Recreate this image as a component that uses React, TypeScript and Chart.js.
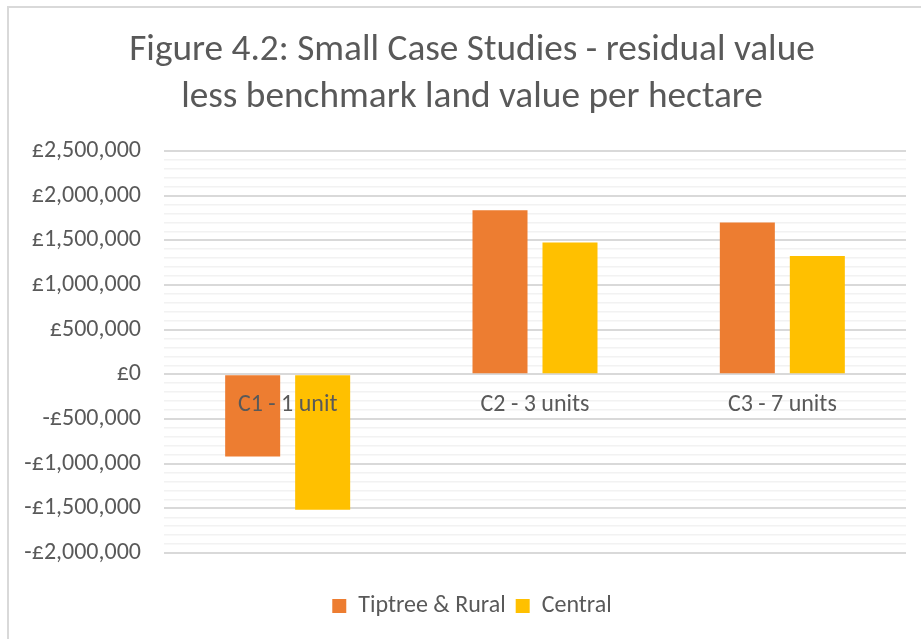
import React, { useEffect, useRef } from 'react';
import { Chart, registerables } from 'chart.js';

Chart.register(...registerables);

const categories = ['C1 - 1 unit', 'C2 - 3 units', 'C3 - 7 units'];
const seriesNames = ['Tiptree & Rural', 'Central'];
const tiptreeRural = [-920000, 1835000, 1700000];
const central = [-1515000, 1475000, 1325000];
const titleLines = [
  'Figure 4.2: Small Case Studies - residual value',
  'less benchmark land value per hectare',
];
const yMin = -2000000;
const yMax = 2500000;
const yMajorStep = 500000;
const yMinorStep = 100000;

const FONT = 'Carlito, Calibri, Lato, sans-serif';
const TEXT = '#595959';
const ORANGE = '#ED7D31';
const YELLOW = '#FFC000';

function fmtPounds(v: number): string {
  const s = Math.abs(Math.round(v)).toString().replace(/\B(?=(\d{3})+(?!\d))/g, ',');
  return (v < 0 ? '-£' : '£') + s;
}

function isMajor(v: number): boolean {
  return Math.abs(Math.round(v) % yMajorStep) === 0;
}

// lets the y tick labels extend left of the scale box (they are clipped to it otherwise)
const unclipYLabels = {
  id: 'unclipYLabels',
  afterLayout(chart: any) {
    const y = chart.scales.y;
    if (y) y.left = 0;
  },
};

export default function App() {
  const ref = useRef<HTMLCanvasElement>(null);

  useEffect(() => {
    if (!ref.current) return;
    const chart = new Chart(ref.current, {
      type: 'bar',
      data: {
        labels: categories,
        datasets: [
          {
            label: seriesNames[0],
            data: tiptreeRural,
            backgroundColor: ORANGE,
            borderWidth: 0,
            categoryPercentage: 0.566,
            barPercentage: 0.786,
          },
          {
            label: seriesNames[1],
            data: central,
            backgroundColor: YELLOW,
            borderWidth: 0,
            categoryPercentage: 0.566,
            barPercentage: 0.786,
          },
        ],
      },
      plugins: [unclipYLabels],
      options: {
        responsive: false,
        devicePixelRatio: 1,
        animation: false,
        layout: { padding: { left: 38, right: 15, top: 0, bottom: 11 } },
        plugins: {
          title: {
            display: true,
            text: titleLines,
            color: TEXT,
            font: { family: FONT, size: 37.3, weight: 'normal', lineHeight: 1.27 },
            padding: { top: 26.5, bottom: 29.7 },
          },
          legend: {
            display: true,
            position: 'bottom',
            title: { display: true, text: '', padding: 0, font: { size: 31, lineHeight: 1 } },
            labels: {
              color: TEXT,
              font: { family: FONT, size: 24 },
              boxWidth: 14,
              boxHeight: 14,
              padding: 10,
            },
          },
          tooltip: { enabled: false },
        },
        scales: {
          x: {
            position: { y: 0 } as any,
            grid: { display: false },
            border: { display: false },
            ticks: {
              z: 1,
              color: TEXT,
              font: { family: FONT, size: 24 },
              padding: 8,
              maxRotation: 0,
              autoSkip: false,
            },
          },
          y: {
            min: yMin,
            max: yMax,
            border: { display: false },
            grid: {
              drawTicks: false,
              color: (ctx: any) => (ctx.tick && isMajor(ctx.tick.value) ? '#d9d9d9' : '#f2f2f2'),
              lineWidth: (ctx: any) => (ctx.tick && isMajor(ctx.tick.value) ? 2 : 1.5),
            },
            ticks: {
              stepSize: yMinorStep,
              maxTicksLimit: 200,
              autoSkip: false,
              color: TEXT,
              font: { family: FONT, size: 24 },
              padding: 23,
              callback: (value: any) => (isMajor(Number(value)) ? fmtPounds(Number(value)) : ''),
            },
            afterFit: (scale: any) => {
              scale.width = 126;
            },
          },
        },
      },
    });
    return () => chart.destroy();
  }, []);

  return (
    <div
      style={{
        position: 'fixed',
        left: 0,
        top: 0,
        width: 921,
        height: 639,
        overflow: 'hidden',
        background: '#ffffff',
      }}
    >
      <canvas ref={ref} width={921} height={639} style={{ display: 'block', width: 921, height: 639 }} />
      <div
        style={{
          position: 'absolute',
          left: 7,
          top: 6,
          right: -10,
          bottom: -10,
          borderLeft: '2px solid #d9d9d9',
          borderTop: '2px solid #d9d9d9',
          pointerEvents: 'none',
        }}
      />
    </div>
  );
}
